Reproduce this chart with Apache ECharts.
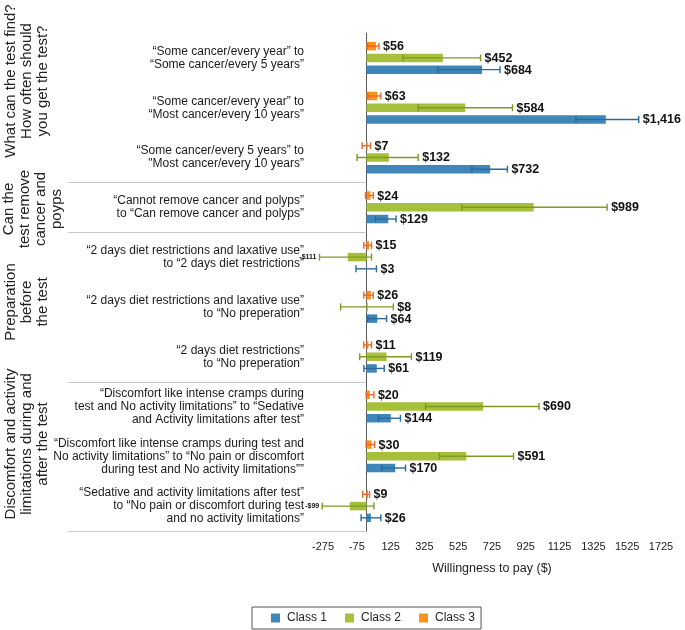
<!DOCTYPE html>
<html><head><meta charset="utf-8">
<script src="https://cdn.jsdelivr.net/npm/echarts@6/dist/echarts.min.js"></script>
<style>html,body{margin:0;padding:0;background:#fff}#c{width:685px;height:630px}</style>
</head><body><div id="c"></div>
<script>
// ---------- data ----------
const categories = [
  '“Some cancer/every year” to\n“Some cancer/every 5 years”',
  '“Some cancer/every year” to\n“Most cancer/every 10 years”',
  '“Some cancer/every 5 years” to\n"Most cancer/every 10 years”',
  '“Cannot remove cancer and polyps”\nto “Can remove cancer and polyps”',
  '“2 days diet restrictions and laxative use”\nto “2 days diet restrictions”',
  '“2 days diet restrictions and laxative use”\nto “No preperation”',
  '“2 days diet restrictions”\nto “No preperation”',
  '“Discomfort like intense cramps during\ntest and No activity limitations” to “Sedative\nand Activity limitations after test”',
  '“Discomfort like intense cramps during test and\nNo activity limitations” to “No pain or discomfort\nduring test and No activity limitations””',
  '“Sedative and activity limitations after test”\nto “No pain or discomfort during test\nand no activity limitations”'
];
const seriesNames = ['Class 1', 'Class 2', 'Class 3'];
const class1Values = [684, 1416, 732, 129, 3, 64, 61, 144, 170, 26];
const class1Low    = [423, 1239, 624, 54, -62, 8, -15, 71, 91, -32];
const class1High   = [790, 1611, 834, 175, 59, 119, 105, 201, 231, 85];
const class2Values = [452, 584, 132, 989, -111, 8, 119, 690, 591, -99];
const class2Low    = [216, 306, -56, 564, -278, -153, -40, 350, 430, -262];
const class2High   = [675, 864, 306, 1424, 30, 159, 266, 1021, 870, 44];
const class3Values = [56, 63, 7, 24, 15, 26, 11, 20, 30, 9];
const class3Low    = [6, 8, -26, -6, -16, -16, -16, -2, -2, -22];
const class3High   = [74, 85, 24, 40, 30, 40, 30, 44, 48, 18];
const xTickLabels  = [-275, -75, 125, 325, 525, 725, 925, 1125, 1325, 1525, 1725];
const groupLabels  = [
  'What can the test find?\nHow often should\nyou get the test?',
  'Can the\ntest remove\ncancer and\npoyps',
  'Preparation\nbefore\nthe test',
  'Discomfort and activity\nlimitations during and\nafter the test'
];
const groupLastIndex = [2, 3, 6, 9];

// ---------- styles ----------
const FONT = "'Liberation Sans', Arial, sans-serif";
const NARROW = "'Liberation Sans Narrow', 'Arial Narrow', 'Liberation Sans', sans-serif";
const BAR_W = 8.5, GAP = 0.38;
const colors = {'Class 1': '#3f87bb', 'Class 2': '#a6c03b', 'Class 3': '#f7931e'};
const errColors = {'Class 1': '#2a6b9b', 'Class 2': '#7f9924', 'Class 3': '#ef6526'};
const groupPos = [[27, 81], [33, 209], [27, 302], [27, 444]];

function fmt(v) {
  return (v < 0 ? '-$' : '$') + Math.abs(v).toLocaleString('en-US');
}

const barOrder = [
  {name: 'Class 3', values: class3Values, low: class3Low, high: class3High},
  {name: 'Class 2', values: class2Values, low: class2Low, high: class2High},
  {name: 'Class 1', values: class1Values, low: class1Low, high: class1High}
];

const series = [];
barOrder.forEach(function (s) {
  series.push({
    type: 'bar', name: s.name, data: s.values, barWidth: BAR_W, barGap: (GAP * 100) + '%',
    itemStyle: {color: colors[s.name]}, z: 2
  });
});
barOrder.forEach(function (s, k) {
  const off = (k - 1) * BAR_W * (1 + GAP);
  const ec = errColors[s.name];
  series.push({
    type: 'custom', name: s.name + ' CI',
    data: s.values.map(function (v, i) { return [i, s.low[i], s.high[i], v]; }),
    encode: {x: [1, 2], y: 0},
    z: 3,
    renderItem: function (params, api) {
      const cat = api.value(0);
      const lo = api.coord([api.value(1), cat]);
      const hi = api.coord([api.value(2), cat]);
      const v = api.value(3);
      const y = lo[1] + off;
      const cap = 3.5;
      const children = [
        {type: 'line', shape: {x1: lo[0], y1: y, x2: hi[0], y2: y}, style: {stroke: ec, lineWidth: 1.4}},
        {type: 'line', shape: {x1: lo[0], y1: y - cap, x2: lo[0], y2: y + cap}, style: {stroke: ec, lineWidth: 1.4}},
        {type: 'line', shape: {x1: hi[0], y1: y - cap, x2: hi[0], y2: y + cap}, style: {stroke: ec, lineWidth: 1.4}}
      ];
      if (v < 0) {
        children.push({type: 'text', x: lo[0] - 3, y: y,
          style: {text: fmt(v), fontSize: 7, fontWeight: 'bold', fontFamily: NARROW, fill: '#111', align: 'right', verticalAlign: 'middle'}});
      } else {
        children.push({type: 'text', x: hi[0] + 4, y: y + 0.5,
          style: {text: fmt(v), fontSize: 12.5, fontWeight: 'bold', fontFamily: NARROW, fill: '#111', align: 'left', verticalAlign: 'middle'}});
      }
      return {type: 'group', children: children};
    }
  });
});

const chart = echarts.init(document.getElementById('c'), null, {renderer: 'canvas'});
chart.setOption({
  animation: false,
  textStyle: {fontFamily: FONT},
  grid: {left: 320, right: 27, top: 33, bottom: 99, containLabel: false},
  legend: {
    data: seriesNames, left: 252, top: 607, icon: 'rect', itemWidth: 9, itemHeight: 9, itemGap: 18,
    padding: [5, 6, 5, 19], borderColor: '#555', borderWidth: 1,
    textStyle: {fontSize: 12, color: '#222', fontFamily: FONT, padding: [0, 0, 0, 2]}
  },
  xAxis: {
    type: 'value', min: -275, max: 1725,
    axisLine: {show: false}, axisTick: {show: false, customValues: xTickLabels}, splitLine: {show: false},
    axisLabel: {customValues: xTickLabels, fontSize: 11, color: '#222', margin: 10,
      padding: [0, 0, 0, 6], formatter: function (v) { return String(v); }},
    name: 'Willingness to pay ($)', nameLocation: 'middle', nameGap: 31,
    nameTextStyle: {fontSize: 12.5, color: '#222', padding: [0, 0, 0, 6]}
  },
  yAxis: {
    type: 'category', data: categories, inverse: true,
    axisLine: {show: true, onZero: true, lineStyle: {color: '#5a5a5a', width: 1}},
    axisTick: {show: false},
    axisLabel: {interval: 0, margin: 16, align: 'right', fontSize: 12, lineHeight: 13, color: '#1a1a1a'}
  },
  series: series
});

// separators and group labels (positions from the axes)
const zeroX = chart.convertToPixel({xAxisIndex: 0}, 0);
const y0 = chart.convertToPixel({yAxisIndex: 0}, 0);
const y1 = chart.convertToPixel({yAxisIndex: 0}, 1);
const band = y1 - y0;
const graphics = [];
groupLastIndex.forEach(function (idx) {
  const yb = Math.round(chart.convertToPixel({yAxisIndex: 0}, idx) + band / 2) + 0.5;
  graphics.push({type: 'line', shape: {x1: 68, y1: yb, x2: zeroX, y2: yb}, style: {stroke: '#c8c8c8', lineWidth: 1}, z: 1});
});
groupLabels.forEach(function (t, i) {
  graphics.push({type: 'text', x: groupPos[i][0], y: groupPos[i][1], rotation: Math.PI / 2,
    style: {text: t, fontSize: 15, fontFamily: FONT, fill: '#222', align: 'center', verticalAlign: 'middle', lineHeight: 16}});
});
chart.setOption({graphic: graphics});
</script>
</body></html>
